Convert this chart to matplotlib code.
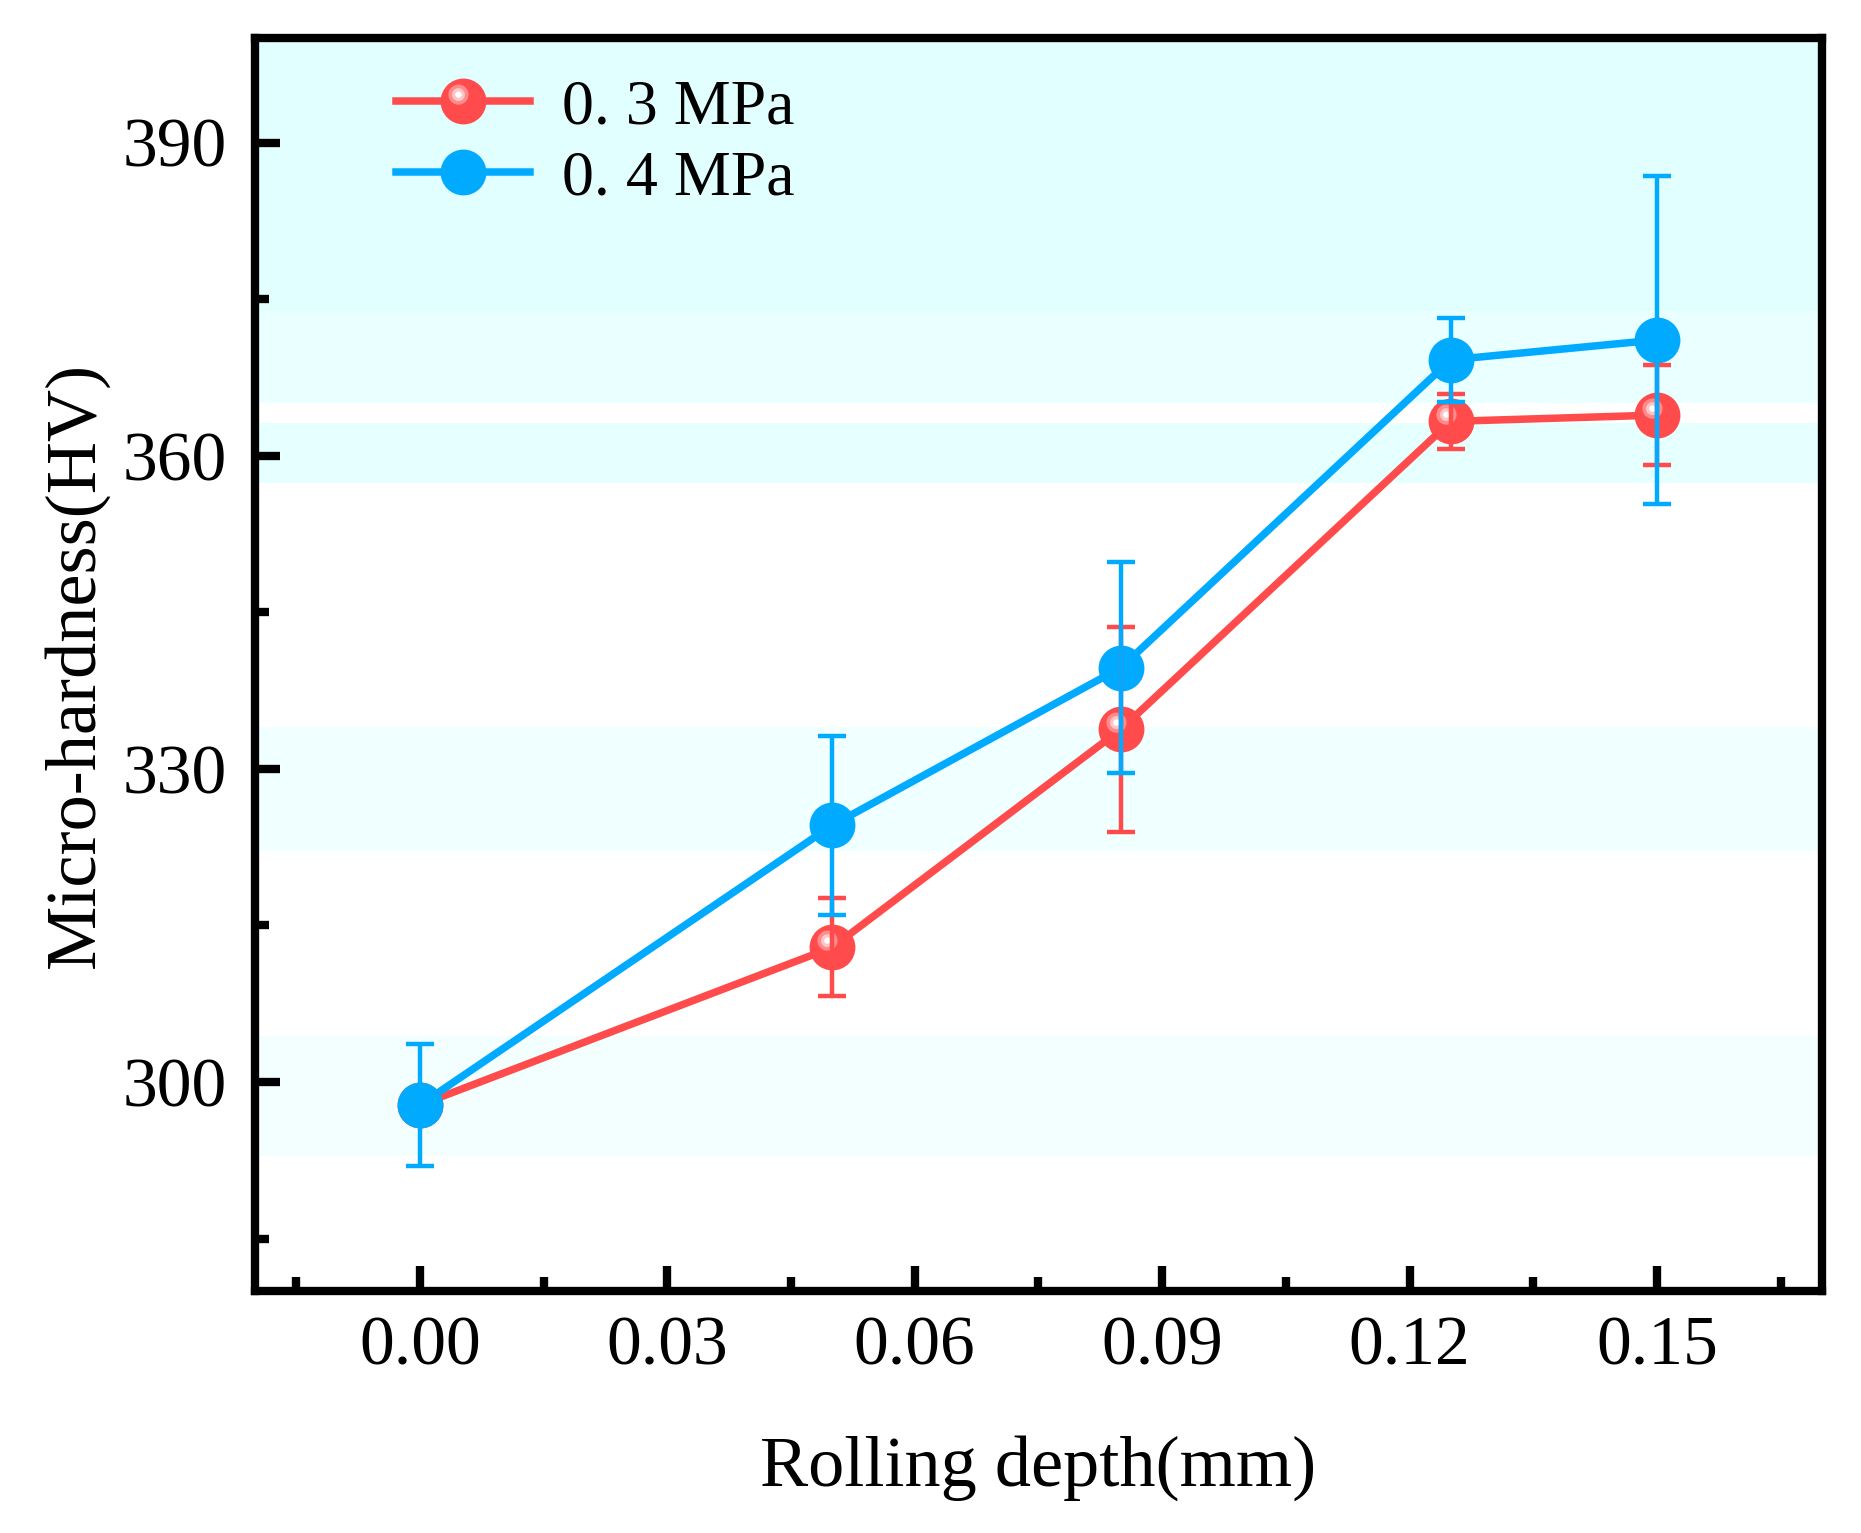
import matplotlib
matplotlib.use("Agg")
import matplotlib.pyplot as plt
import numpy as np
from matplotlib.path import Path
from matplotlib.legend_handler import HandlerTuple
from matplotlib.lines import Line2D

plt.rcParams['font.family'] = ['Liberation Serif', 'DejaVu Serif']

# ---- data ----
depth = [0.00, 0.05, 0.085, 0.125, 0.15]
hv_03 = [297.8, 312.9, 333.8, 363.3, 363.9]
err_03 = [np.nan, 4.7, 9.8, 2.6, 4.8]   # first error bar hidden behind the 0.4 MPa point
hv_04 = [297.8, 324.6, 339.7, 369.2, 371.1]
err_04 = [5.8, 8.6, 10.1, 4.0, 15.7]
labels = ["0. 3 MPa", "0. 4 MPa"]
xticks = [0.00, 0.03, 0.06, 0.09, 0.12, 0.15]
yticks = [300, 330, 360, 390]

# background bands (decoration): (low, high, colour)
bands = [(373.9, 400, '#E2FFFF'),
         (365.1, 373.9, '#EAFFFF'),
         (357.4, 363.1, '#E6FFFF'),
         (322.1, 334.0, '#F0FFFF'),
         (292.9, 304.4, '#F3FFFF')]

red = '#FF4B4B'
blue = '#00AAFF'

fig = plt.figure(figsize=(9.305, 7.665), dpi=200)
ax = fig.add_axes([0.137, 0.158, 0.842, 0.817])

for lo, hi, c in bands:
    ax.axhspan(lo, hi, color=c, lw=0, zorder=0)

ms = 16.5
lw = 2.7
elw = 1.6

# highlight marker paths (sphere shine)
def circle_path(cx, cy, r, n=60):
    t = np.linspace(0, 2*np.pi, n)
    v = np.column_stack([cx + r*np.cos(t), cy + r*np.sin(t)])
    return Path(v, closed=True)

p_pink = circle_path(-0.22, 0.30, 0.44)
m_pink = np.max(np.abs(p_pink.vertices))
p_lt = circle_path(-0.22, 0.30, 0.28)
m_lt = np.max(np.abs(p_lt.vertices))
p_white = circle_path(-0.22, 0.30, 0.14)
m_white = np.max(np.abs(p_white.vertices))

ax.plot(depth, hv_03, '-', color=red, lw=lw, zorder=2, solid_capstyle='round')
ax.plot(depth, hv_04, '-', color=blue, lw=lw, zorder=2, solid_capstyle='round')
ax.plot(depth, hv_03, 'o', color=red, ms=ms, mew=0, zorder=3)
ax.plot(depth, hv_03, ls='none', marker=p_pink, color='#FF8C8C', ms=ms*m_pink, mew=0, zorder=3.1)
ax.plot(depth, hv_03, ls='none', marker=p_lt, color='#FFC4C4', ms=ms*m_lt, mew=0, zorder=3.15)
ax.plot(depth, hv_03, ls='none', marker=p_white, color='white', ms=ms*m_white, mew=0, zorder=3.2)
ax.plot(depth, hv_04, 'o', color=blue, ms=ms, mew=0, zorder=4)

e1 = ax.errorbar(depth, hv_03, yerr=err_03, fmt='none', ecolor=red, elinewidth=elw,
                 capsize=5, capthick=elw, zorder=5)
e2 = ax.errorbar(depth, hv_04, yerr=err_04, fmt='none', ecolor=blue, elinewidth=elw,
                 capsize=5, capthick=elw, zorder=5)
for e in (e1, e2):
    for cap in e[1]:
        cap.set_solid_capstyle('round')

ax.set_xlim(-0.02, 0.17)
ax.set_ylim(280, 400)
ax.set_xticks(xticks)
ax.set_xticklabels([f"{v:.2f}" for v in xticks])
ax.set_yticks(yticks)
ax.set_xticks(np.arange(-0.015, 0.17, 0.03), minor=True)
ax.set_yticks([285, 315, 345, 375], minor=True)

for s in ax.spines.values():
    s.set_linewidth(3.0)
ax.tick_params(which='both', direction='in', width=3.0, top=False, right=False)
ax.tick_params(which='major', length=9, labelsize=25)
ax.tick_params(axis='x', which='major', pad=9)
ax.tick_params(axis='y', which='major', pad=10)
ax.tick_params(which='minor', length=5)

ax.set_xlabel("Rolling depth(mm)", fontsize=26, labelpad=20)
ax.set_ylabel("Micro-hardness(HV)", fontsize=26, labelpad=5)

h1 = (Line2D([], [], color=red, lw=lw, marker='o', ms=ms, mew=0),
      Line2D([], [], ls='none', marker=p_pink, color='#FF8C8C', ms=ms*m_pink, mew=0),
      Line2D([], [], ls='none', marker=p_lt, color='#FFC4C4', ms=ms*m_lt, mew=0),
      Line2D([], [], ls='none', marker=p_white, color='white', ms=ms*m_white, mew=0))
h2 = Line2D([], [], color=blue, lw=lw, marker='o', ms=ms, mew=0)
ax.legend([h1, h2], labels, handler_map={tuple: HandlerTuple(ndivide=1, pad=0)},
          loc='upper left', bbox_to_anchor=(0.09, 0.968), frameon=False,
          fontsize=23, handlelength=2.1, handletextpad=0.5, labelspacing=0.2,
          borderpad=0, borderaxespad=0)

fig.savefig("out.png", dpi=200)
